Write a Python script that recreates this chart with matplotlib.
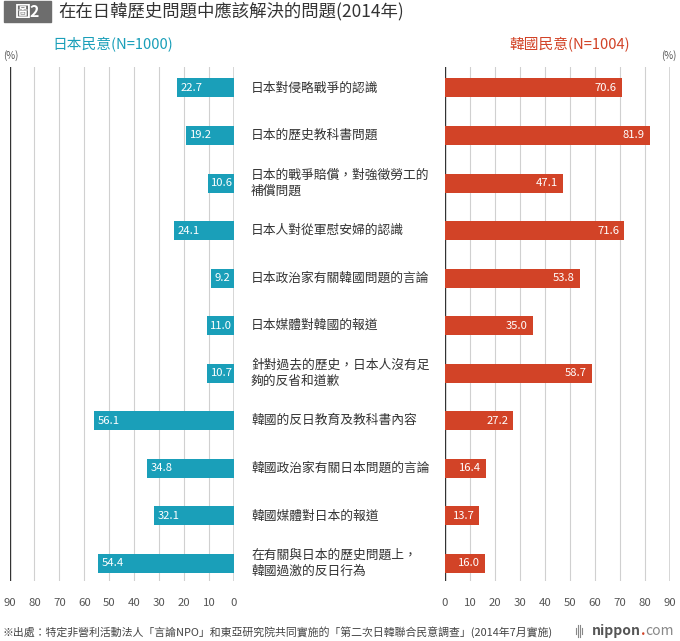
import matplotlib
matplotlib.use("Agg")
import matplotlib.pyplot as plt
from matplotlib.patches import Rectangle

plt.rcParams['font.family'] = ['Noto Sans CJK TC', 'DejaVu Sans']

categories = [
    "日本對侵略戰爭的認識",
    "日本的歷史教科書問題",
    "日本的戰爭賠償，對強徵勞工的\n補償問題",
    "日本人對從軍慰安婦的認識",
    "日本政治家有關韓國問題的言論",
    "日本媒體對韓國的報道",
    "針對過去的歷史，日本人沒有足\n夠的反省和道歉",
    "韓國的反日教育及教科書內容",
    "韓國政治家有關日本問題的言論",
    "韓國媒體對日本的報道",
    "在有關與日本的歷史問題上，\n韓國過激的反日行為",
]
japan = [22.7, 19.2, 10.6, 24.1, 9.2, 11.0, 10.7, 56.1, 34.8, 32.1, 54.4]
korea = [70.6, 81.9, 47.1, 71.6, 53.8, 35.0, 58.7, 27.2, 16.4, 13.7, 16.0]
ticks = [0, 10, 20, 30, 40, 50, 60, 70, 80, 90]

TEAL = "#1a9fb9"
RED = "#d24327"
GRID = "#d0d0d0"
DARK = "#333333"
W, H = 680, 641

fig = plt.figure(figsize=(W / 100, H / 100), dpi=100)

def fx(px):
    return px / W

def fy(py):
    return 1 - py / H

top, bot = 67, 581
axL = fig.add_axes([fx(9.5), fy(bot), fx(234 - 9.5), (bot - top) / H])
axR = fig.add_axes([fx(445), fy(bot), fx(670 - 445), (bot - top) / H])

n = len(categories)
ys = list(range(n))
for ax, vals, col, inv in [(axL, japan, TEAL, True), (axR, korea, RED, False)]:
    ax.set_xlim(90, 0) if inv else ax.set_xlim(0, 90)
    ax.set_ylim(n - 1 + 0.37, -0.44)
    for t in ticks:
        c = DARK if t in (0, 90) else GRID
        lw = 1.0 if t in (0, 90) else 0.8
        ax.axvline(t, color=c, lw=lw, zorder=1)
    ax.barh(ys, vals, height=0.40, color=col, zorder=2)
    for y, v in zip(ys, vals):
        if inv:
            ax.annotate(f"{v:.1f}", (v, y), xytext=(2.5, 0), textcoords="offset points",
                        ha="left", va="center", color="white", fontsize=8.1, zorder=3)
        else:
            ax.annotate(f"{v:.1f}", (v, y), xytext=(-3.5, 0), textcoords="offset points",
                        ha="right", va="center", color="white", fontsize=8.1, zorder=3)
    for s in ax.spines.values():
        s.set_visible(False)
    ax.set_xticks(ticks)
    ax.set_xticklabels([str(t) for t in ticks])
    ax.tick_params(axis="x", length=0, pad=12.5, labelsize=8.2, labelcolor="#555555")
    ax.set_yticks([])
    ax.patch.set_alpha(0)

# category labels
for y, c in zip(ys, categories):
    disp = axL.transData.transform((0, y))
    yfig = fig.transFigure.inverted().transform(disp)[1]
    fig.text(fx(251), yfig, c, ha="left", va="center", fontsize=9.2,
             color="#333333", linespacing=1.3)

# title
fig.patches.append(Rectangle((fx(4), fy(22)), fx(47), 21 / H, transform=fig.transFigure,
                             color="#6d6d6d", zorder=0))
fig.text(fx(27.5), fy(11.5), "圖2", ha="center", va="center", color="white",
         fontsize=11.5, fontweight="bold")
fig.text(fx(58), fy(11.5), "在在日韓歷史問題中應該解決的問題(2014年)", ha="left",
         va="center", color="#333333", fontsize=12.5, fontweight="medium")

# headers
fig.text(fx(52), fy(45), "日本民意(N=1000)", ha="left", va="center", color=TEAL, fontsize=10.6)
fig.text(fx(630), fy(45), "韓國民意(N=1004)", ha="right", va="center", color=RED, fontsize=10.6)
fig.text(fx(3), fy(56), "(%)", ha="left", va="center", color="#555555", fontsize=7)
fig.text(fx(677), fy(56), "(%)", ha="right", va="center", color="#555555", fontsize=7)

# footer
fig.text(fx(2), fy(632), "※出處：特定非營利活動法人「言論NPO」和東亞研究院共同實施的「第二次日韓聯合民意調查」(2014年7月實施)",
         ha="left", va="center", color="#444444", fontsize=7.85)

fig.canvas.draw()
r = fig.canvas.get_renderer()
t1 = fig.text(fx(592), fy(631), "nippon", ha="left", va="center", color="#555555",
              fontsize=10, fontweight="bold")
e1 = t1.get_window_extent(r)
t2 = fig.text(e1.x1 / W, fy(631), ".", ha="left", va="center", color=RED, fontsize=10,
              fontweight="bold")
e2 = t2.get_window_extent(r)
fig.text(e2.x1 / W, fy(631), "com", ha="left", va="center", color="#888888", fontsize=10)
for i, xx in enumerate([576, 578, 580, 582]):
    hgt = [3, 6, 6, 3][i]
    fig.add_artist(plt.Line2D([fx(xx), fx(xx)], [fy(631 + hgt), fy(631 - hgt)],
                              transform=fig.transFigure, color="#888888", lw=0.8))

fig.savefig("out.png", dpi=100)
